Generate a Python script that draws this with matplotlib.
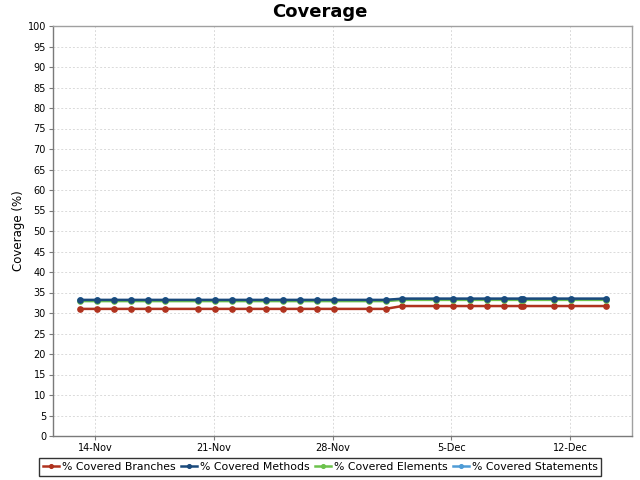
import matplotlib
matplotlib.use("Agg")
import matplotlib.pyplot as plt
import pandas as pd

dates = ["2010-11-13 03:00", "2010-11-14 03:00", "2010-11-15 03:00", "2010-11-16 03:00",
         "2010-11-17 03:00", "2010-11-18 03:00",
         "2010-11-20 02:00", "2010-11-21 02:00", "2010-11-22 02:00", "2010-11-23 02:00",
         "2010-11-24 02:00", "2010-11-25 02:00", "2010-11-26 02:00", "2010-11-27 02:00",
         "2010-11-28 02:30",
         "2010-11-30 03:00", "2010-12-01 03:00", "2010-12-02 02:30",
         "2010-12-04 02:30", "2010-12-05 02:30", "2010-12-06 02:30", "2010-12-07 02:30",
         "2010-12-08 02:30", "2010-12-09 02:30", "2010-12-09 05:00",
         "2010-12-11 01:30", "2010-12-12 01:30", "2010-12-14 02:30"]

branches = [31.0]*17 + [31.7]*11
methods = [33.2]*17 + [33.5]*11
elements = [32.9]*17 + [33.2]*11
statements = [33.1]*17 + [33.4]*11

tick_dates = ["2010-11-14", "2010-11-21", "2010-11-28", "2010-12-05", "2010-12-12"]
tick_labels = ["14-Nov", "21-Nov", "28-Nov", "5-Dec", "12-Dec"]

series = [
    ("% Covered Branches", branches, "#b0321e"),
    ("% Covered Methods", methods, "#1b4a7c"),
    ("% Covered Elements", elements, "#6cc24c"),
    ("% Covered Statements", statements, "#4f9cd6"),
]

x = pd.to_datetime(dates)

fig = plt.figure(figsize=(6.4, 4.8), dpi=100)
ax = fig.add_axes([53/640, 1-436/480, (632-53)/640, (436-26)/480])

handles = {}
for name, vals, col in [series[0], series[3], series[2], series[1]]:
    h, = ax.plot(x, vals, color=col, lw=1.8, marker="o", ms=3.8, label=name)
    handles[name] = h

ax.set_ylim(0, 100)
ax.set_yticks(range(0, 101, 5))
ax.set_xlim(pd.Timestamp("2010-11-11 12:45"), pd.Timestamp("2010-12-15 15:30"))
ax.set_xticks(pd.to_datetime(tick_dates))
ax.set_xticklabels(tick_labels)

ax.grid(True, color="#dadada", linestyle=(0, (2, 2)), linewidth=0.7)
ax.set_axisbelow(True)
for side, s in ax.spines.items():
    s.set_color("#7a7a7a" if side in ("left", "bottom") else "#a0a0a0")
    s.set_linewidth(1)
ax.tick_params(axis="both", labelsize=7, color="#7a7a7a", length=3, width=0.8, pad=2)
ax.set_ylabel("Coverage (%)", fontsize=8.5)
ax.yaxis.set_label_coords(-0.048, 0.5)

fig.text(0.5, 1-12/480, "Coverage", ha="center", va="center", fontsize=13, fontweight="bold")

names = [s[0] for s in series]
leg = fig.legend([handles[n] for n in names], names, loc="center",
                 bbox_to_anchor=(320/640, 1-467/480), ncol=4, fontsize=7.8,
                 frameon=True, fancybox=False, handlelength=1.5, handletextpad=0.25,
                 columnspacing=0.5, borderpad=0.35, borderaxespad=0, markerscale=0.7)
leg.get_frame().set_edgecolor("black")
leg.get_frame().set_linewidth(1)

fig.savefig("out.png", dpi=100)
